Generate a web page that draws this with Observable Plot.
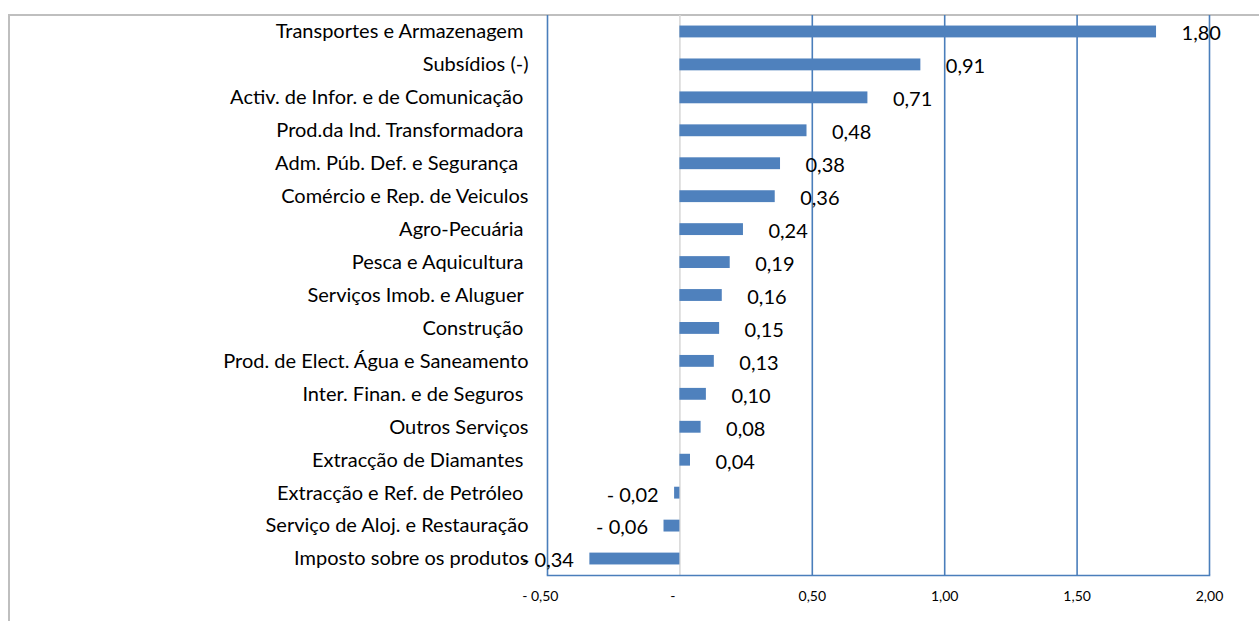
<!DOCTYPE html>
<html>
<head>
<meta charset="utf-8">
<script src="https://cdn.jsdelivr.net/npm/d3@7"></script>
<script src="https://cdn.jsdelivr.net/npm/@observablehq/plot@0.6"></script>
<style>
  html, body { margin: 0; padding: 0; background: #ffffff; overflow: hidden; }
  #wrap { position: relative; width: 1259px; height: 621px; }
  #border { position: absolute; left: 8px; top: 14px; width: 1400px; height: 800px;
            border-top: 2px solid #BFBFBF; border-left: 2px solid #BFBFBF; }
  #chart { position: absolute; left: 0; top: 0; }
</style>
</head>
<body>
<div id="wrap"><div id="border"></div><div id="chart"></div></div>
<script>
const categories = [
  "Transportes e Armazenagem ",
  "Subsídios (-)",
  "Activ. de Infor. e de Comunicação ",
  "Prod.da Ind. Transformadora ",
  "Adm. Púb. Def. e Segurança  ",
  "Comércio e Rep. de Veiculos",
  "Agro-Pecuária ",
  "Pesca e Aquicultura ",
  "Serviços Imob. e Aluguer ",
  "Construção ",
  "Prod. de Elect. Água e Saneamento",
  "Inter. Finan. e de Seguros ",
  "Outros Serviços",
  "Extracção de Diamantes ",
  "Extracção e Ref. de Petróleo ",
  "Serviço de Aloj. e Restauração",
  "Imposto sobre os produtos"
];
const values = [1.80, 0.91, 0.71, 0.48, 0.38, 0.36, 0.24, 0.19, 0.16, 0.15, 0.13, 0.10, 0.08, 0.04, -0.02, -0.06, -0.34];
const xTicks = [-0.5, 0, 0.5, 1.0, 1.5, 2.0];
const gridTicks = [-0.5, 0.5, 1.0, 1.5, 2.0];

const data = categories.map((c, i) => ({category: c, value: values[i]}));
const num = v => Math.abs(v).toFixed(2).replace(".", ",");
const valueFmt = v => v < 0 ? "- " + num(v) : num(v);
const NB = "\u00a0";
const tickFmt = v => v === 0 ? "-" + NB.repeat(4) : (v < 0 ? "- " + num(v) + NB.repeat(4) : num(v));
const catFmt = c => c.replace(/ +$/, m => NB.repeat(m.length));

const blue = "#4F81BD";
const gridBlue = "#4A7EBB";

const chart = Plot.plot({
  width: 1259,
  height: 621,
  marginLeft: 547,
  marginRight: 50,
  marginTop: 15,
  marginBottom: 46,
  style: {fontFamily: "Lato, 'Open Sans', sans-serif", background: "transparent", color: "#000000"},
  x: {domain: [-0.5, 2.0]},
  y: {domain: categories, paddingInner: 0.64, paddingOuter: 0.32, round: false},
  marks: [
    Plot.ruleX(gridTicks, {stroke: gridBlue, strokeWidth: 1.6}),
    Plot.ruleX([0], {stroke: "#D9D9D9", strokeWidth: 1.6}),
    Plot.frame({anchor: "bottom", stroke: gridBlue, strokeWidth: 1.6}),
    Plot.barX(data, {x: "value", y: "category", fill: blue}),
    Plot.text(data.filter(d => d.value >= 0), {
      x: "value", y: "category", text: d => valueFmt(d.value),
      textAnchor: "start", dx: 25, dy: 2, fontSize: 20, fill: "#000000"
    }),
    Plot.text(data.filter(d => d.value < 0), {
      x: "value", y: "category", text: d => valueFmt(d.value),
      textAnchor: "end", dx: -16, dy: 2, fontSize: 20, fill: "#000000"
    }),
    Plot.axisY({tickSize: 0, tickPadding: 19, fontSize: 20, label: null, tickFormat: catFmt}),
    Plot.axisX({ticks: xTicks, tickSize: 0, tickPadding: 16, fontSize: 14, label: null, tickFormat: tickFmt})
  ]
});
document.getElementById("chart").appendChild(chart);
</script>
</body>
</html>
